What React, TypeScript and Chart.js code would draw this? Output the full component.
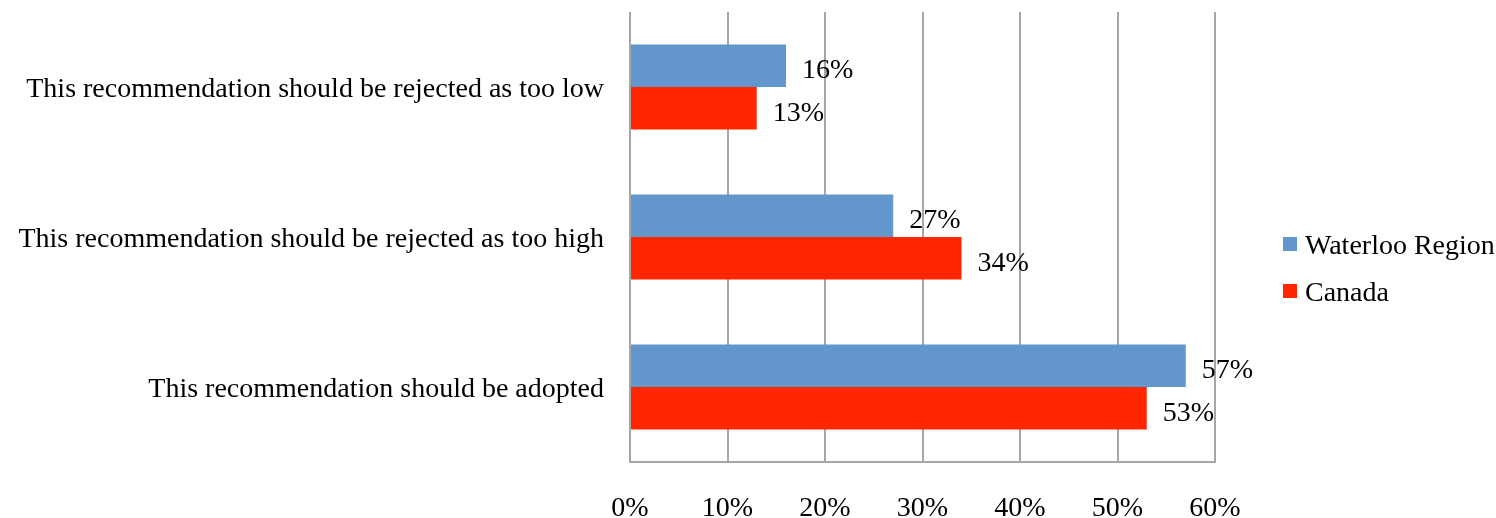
import React, { useEffect, useRef } from "react";
import { Chart, registerables } from "chart.js";

Chart.register(...registerables);

const categories = [
  "This recommendation should be rejected as too low",
  "This recommendation should be rejected as too high",
  "This recommendation should be adopted",
];
const waterlooValues = [16, 27, 57];
const canadaValues = [13, 34, 53];
const seriesNames = ["Waterloo Region", "Canada"];
const seriesColors = ["#6397CB", "#FF2600"];
const xTicks = [0, 10, 20, 30, 40, 50, 60];

const FONT = "'Liberation Serif', 'DejaVu Serif', serif";
const GRID = "#A6A6A6";

const labelPlugin = {
  id: "valueLabels",
  afterDatasetsDraw(chart: any) {
    const ctx = chart.ctx;
    ctx.save();
    ctx.font = `28px ${FONT}`;
    ctx.fillStyle = "#000";
    ctx.textBaseline = "middle";
    ctx.textAlign = "left";
    chart.data.datasets.forEach((ds: any, i: number) => {
      const meta = chart.getDatasetMeta(i);
      meta.data.forEach((bar: any, j: number) => {
        ctx.fillText(`${ds.data[j]}%`, bar.x + 16, bar.y + 5);
      });
    });
    // legend
    const area = chart.chartArea;
    const lx = area.right + 68;
    const ys = [245, 292];
    seriesNames.forEach((name, i) => {
      ctx.fillStyle = seriesColors[i];
      ctx.fillRect(lx, ys[i] - 8, 14, 14);
      ctx.fillStyle = "#000";
      ctx.fillText(name, lx + 22, ys[i] + 2);
    });
    ctx.restore();
  },
};

export default function App() {
  const ref = useRef<HTMLCanvasElement>(null);
  useEffect(() => {
    document.body.style.margin = "0";
    const chart = new Chart(ref.current!, {
      type: "bar",
      data: {
        labels: categories,
        datasets: [
          {
            label: seriesNames[0],
            data: waterlooValues,
            backgroundColor: seriesColors[0],
            categoryPercentage: 0.567,
            barPercentage: 1.0,
          },
          {
            label: seriesNames[1],
            data: canadaValues,
            backgroundColor: seriesColors[1],
            categoryPercentage: 0.567,
            barPercentage: 1.0,
          },
        ],
      },
      options: {
        indexAxis: "y",
        responsive: false,
        animation: false,
        devicePixelRatio: 1,
        layout: { padding: { top: 12, right: 281, left: 0, bottom: 0 } },
        plugins: { legend: { display: false }, tooltip: { enabled: false } },
        scales: {
          x: {
            min: 0,
            max: 60,
            afterBuildTicks: (scale: any) => {
              scale.ticks = xTicks.map((v) => ({ value: v }));
            },
            afterFit: (scale: any) => {
              scale.height = 56;
              scale.paddingLeft = 0;
              scale.paddingRight = 0;
            },
            grid: { color: GRID, lineWidth: 2, drawTicks: false },
            border: { display: true, color: GRID, width: 2 },
            ticks: {
              padding: 33,
              color: "#000",
              font: { family: FONT, size: 28, lineHeight: 1 },
              callback: (v: any) => `${v}%`,
            },
          },
          y: {
            afterFit: (scale: any) => {
              scale.width = 630;
              scale.paddingTop = 0;
              scale.paddingBottom = 0;
            },
            grid: { display: false },
            border: { display: false },
            ticks: {
              padding: 18,
              labelOffset: 3,
              color: "#000",
              font: { family: FONT, size: 28 },
            },
          },
        },
      },
      plugins: [labelPlugin],
    } as any);
    return () => chart.destroy();
  }, []);
  return (
    <div style={{ position: "absolute", left: 0, top: 0, width: 1496, height: 518 }}>
      <canvas ref={ref} width={1496} height={518} style={{ width: 1496, height: 518 }} />
    </div>
  );
}
